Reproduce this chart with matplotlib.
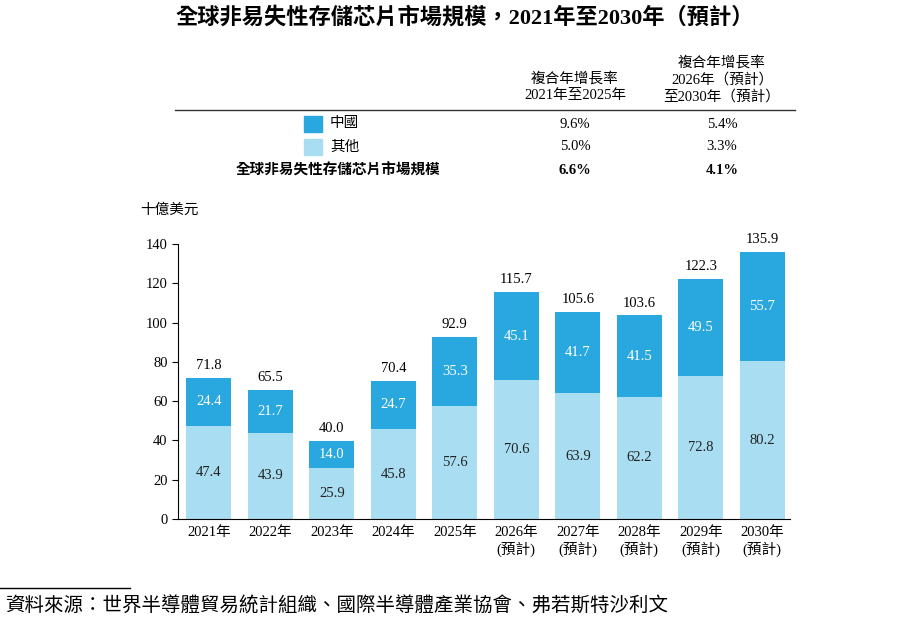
import matplotlib.pyplot as plt
from matplotlib.patches import Rectangle
from matplotlib.lines import Line2D

plt.rcParams['font.family'] = ['Liberation Serif', 'Noto Sans CJK TC']

years = ['2021年', '2022年', '2023年', '2024年', '2025年',
         '2026年\n(預計)', '2027年\n(預計)', '2028年\n(預計)', '2029年\n(預計)', '2030年\n(預計)']
other = [47.4, 43.9, 25.9, 45.8, 57.6, 70.6, 63.9, 62.2, 72.8, 80.2]
china = [24.4, 21.7, 14.0, 24.7, 35.3, 45.1, 41.7, 41.5, 49.5, 55.7]
totals = [71.8, 65.5, 40.0, 70.4, 92.9, 115.7, 105.6, 103.6, 122.3, 135.9]
cagr_rows = ['中國', '其他', '全球非易失性存儲芯片市場規模']
cagr_21_25 = ['9.6%', '5.0%', '6.6%']
cagr_26_30 = ['5.4%', '3.3%', '4.1%']

c_dark = '#29A8E0'
c_light = '#A9DDF1'
W, H = 900, 625

fig = plt.figure(figsize=(9, 6.25), dpi=100)

def px(x, y):
    return x / W, 1 - y / H

def text(x, y, s, **kw):
    fig.text(*px(x, y), s, **kw)

text(465, 18, '全球非易失性存儲芯片市場規模，2021年至2030年（預計）', ha='center', va='center',
     fontsize=16, fontweight='bold')

# table
text(575, 87, '複合年增長率\n2021年至2025年', ha='center', va='center', fontsize=10.5, linespacing=1.3)
text(722, 80, '複合年增長率\n2026年（預計）\n至2030年（預計）', ha='center', va='center', fontsize=10.5, linespacing=1.3)
fig.add_artist(Line2D([175 / W, 795 / W], [1 - 110 / H] * 2, color='#333333', lw=1))
for i, (lab, a, b) in enumerate(zip(cagr_rows, cagr_21_25, cagr_26_30)):
    y = 124 + i * 23
    bold = 'bold' if i == 2 else 'normal'
    if i < 2:
        fig.add_artist(Rectangle(px(304, y + 8), 18 / W, 16 / H, color=[c_dark, c_light][i]))
        text(330, y, lab, va='center', fontsize=10.5)
    else:
        text(440, y, lab, va='center', ha='right', fontsize=10.5, fontweight='bold')
    text(575, y, a, ha='center', va='center', fontsize=10.5, fontweight=bold)
    text(722, y, b, ha='center', va='center', fontsize=10.5, fontweight=bold)

text(140, 210, '十億美元', va='center', fontsize=10.5)

ax = fig.add_axes([178 / W, 1 - 519 / H, (790 - 178) / W, (519 - 244) / H])
x = range(len(years))
ax.bar(x, other, width=0.73, color=c_light)
ax.bar(x, china, width=0.73, bottom=other, color=c_dark)
for i in x:
    ax.text(i, other[i] / 2, f'{other[i]:.1f}', ha='center', va='center', fontsize=10.5, color='#222222')
    ax.text(i, other[i] + china[i] / 2, f'{china[i]:.1f}', ha='center', va='center', fontsize=10.5, color='white')
    ax.text(i, totals[i] + 3, f'{totals[i]:.1f}', ha='center', va='bottom', fontsize=10.5)
ax.set_ylim(0, 140)
ax.set_xlim(-0.5, 9.45)
ax.set_yticks(range(0, 141, 20))
ax.set_xticks(list(x))
ax.set_xticklabels(years, fontsize=10.5, linespacing=1.2)
ax.tick_params(axis='y', labelsize=10.5, length=4)
ax.tick_params(axis='x', length=0, pad=5)
for s in ['top', 'right']:
    ax.spines[s].set_visible(False)

fig.add_artist(Line2D([0, 130 / W], [1 - 588 / H] * 2, color='black', lw=1))
text(5, 606, '資料來源：世界半導體貿易統計組織、國際半導體產業協會、弗若斯特沙利文', va='center',
     fontsize=14, style='italic')

fig.savefig('out.png', dpi=100)
